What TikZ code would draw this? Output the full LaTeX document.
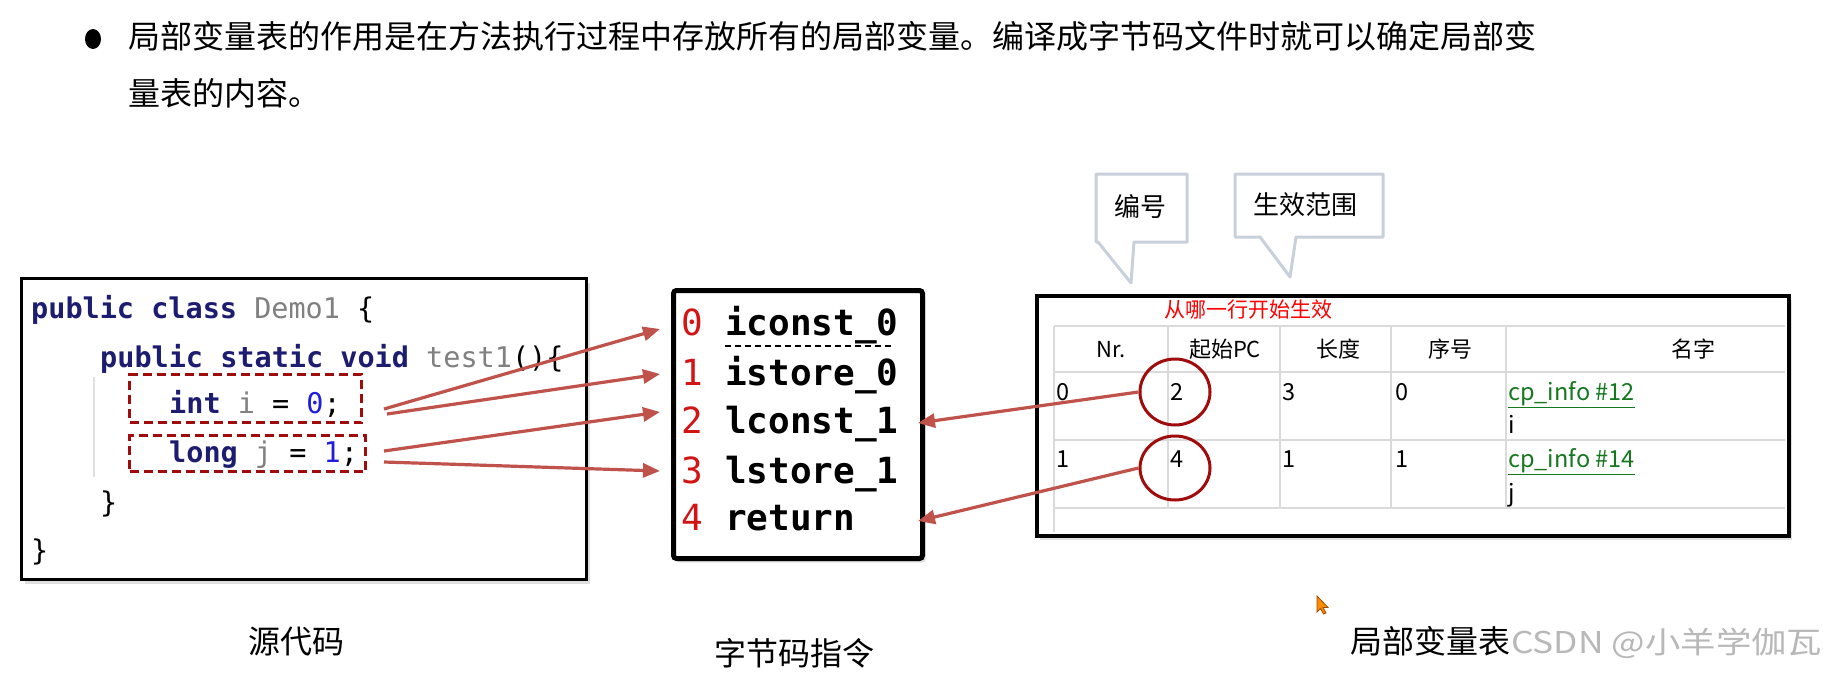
\documentclass[tikz,border=0pt]{standalone}
\usepackage{fontspec}
\newfontfamily\cjk{Noto Sans CJK SC}
\newfontfamily\mono{DejaVu Sans Mono}
\usetikzlibrary{arrows.meta,shadows,shapes.geometric}
\definecolor{kw}{RGB}{28,28,112}
\definecolor{idgray}{RGB}{128,128,128}
\definecolor{numblue}{RGB}{30,30,220}
\definecolor{arrowc}{RGB}{192,82,76}
\definecolor{darkred}{RGB}{160,12,12}
\definecolor{bcred}{RGB}{210,20,20}
\definecolor{callout}{RGB}{200,208,220}
\definecolor{grid}{RGB}{218,218,218}
\definecolor{linkgreen}{RGB}{20,120,30}
\newcommand{\jkw}[1]{\textcolor{kw}{\bfseries #1}}
\newcommand{\jid}[1]{\textcolor{idgray}{#1}}
\newcommand{\jnum}[1]{\textcolor{numblue}{#1}}
\begin{document}
\begin{tikzpicture}[x=1pt,y=-1pt,
  codeline/.style={anchor=west, inner sep=0, yshift=-8pt, font=\mono\fontsize{28.5}{34}\selectfont, text height=0.76em, text depth=0.22em},
  bcnum/.style={inner sep=0, yshift=-9pt, text=bcred, font=\mono\fontsize{36}{42}\selectfont, text height=0.74em, text depth=0.2em},
  bcins/.style={anchor=west, inner sep=0, yshift=-9pt, font=\mono\bfseries\fontsize{36}{42}\selectfont, text height=0.74em, text depth=0.2em},
  dbox/.style={draw=darkred, line width=3.2pt, dash pattern=on 9pt off 5pt, inner sep=0, anchor=north west},
  arr/.style={draw=arrowc, line width=3.2pt, -{Triangle[length=17pt,width=14pt]}},
  tbl/.style={inner sep=0, yshift=-4pt, font=\cjk\fontsize{22}{26}\selectfont, text height=0.88em, text depth=0.12em},
  tval/.style={tbl, anchor=west, font=\cjk\fontsize{23.5}{28}\selectfont},
  captxt/.style={inner sep=0, yshift=-7pt, font=\cjk\fontsize{32}{38}\selectfont, text height=0.88em, text depth=0.12em},
  callbox/.style={draw=callout, line width=3pt, fill=white, line join=round},
  circ/.style={ellipse, draw=darkred, line width=3pt, inner sep=0}
]
\useasboundingbox (0,0) rectangle (1823,682);
\fill[white] (0,0) rectangle (1823,682);

% heading text
\fill[black] (93,39) ellipse [x radius=8pt, y radius=10pt];
\node[captxt, anchor=west] (head1) at (128,38) {局部变量表的作用是在方法执行过程中存放所有的局部变量。编译成字节码文件时就可以确定局部变};
\node[captxt, anchor=west] (head2) at (128,95) {量表的内容。};

% source code box
\node[draw, line width=3pt, fill=white, anchor=north west, minimum width=565pt, minimum height=301pt, inner sep=0,
  drop shadow={shadow xshift=3pt, shadow yshift=-4pt, opacity=0.25}] (codebox) at (20,277) {};
\draw[black!12, line width=2pt] (94,377) -- (94,477);
\node[codeline] (l1) at (31,308) {\jkw{public class} \jid{Demo1} \{};
\node[codeline] (l2) at (100,357) {\jkw{public static void} \jid{test1}()\{};
\node[codeline] (l3) at (169,403) {\jkw{int} \jid{i} = \jnum{0};};
\node[codeline] (l4) at (169,452) {\jkw{long} \jid{j} = \jnum{1};};
\node[codeline] (l5) at (100,502) {\}};
\node[codeline] (l6) at (31,550) {\}};
\node[dbox, minimum width=232pt, minimum height=48pt] (d1) at (128,373) {};
\node[dbox, minimum width=236pt, minimum height=36pt] (d2) at (128,434) {};

% bytecode box
\node[draw, line width=5pt, rounded corners=3pt, fill=white, anchor=north west, minimum width=249pt, minimum height=268pt, inner sep=0,
  drop shadow={shadow xshift=3pt, shadow yshift=-4pt, opacity=0.25}] (bcbox) at (671,288) {};
\node[bcnum] (n0) at (692,324) {0};
\node[bcnum] (n1) at (692,374) {1};
\node[bcnum] (n2) at (692,422) {2};
\node[bcnum] (n3) at (692,472) {3};
\node[bcnum] (n4) at (692,519) {4};
\node[bcins] (i0) at (725,324) {iconst\_0};
\node[bcins] (i1) at (725,374) {istore\_0};
\node[bcins] (i2) at (725,422) {lconst\_1};
\node[bcins] (i3) at (725,472) {lstore\_1};
\node[bcins] (i4) at (725,519) {return};
\draw[black, line width=2pt, dash pattern=on 6pt off 4pt] (725,346) -- (893,346);

% local variable table
\node[draw, line width=4pt, fill=white, anchor=north west, minimum width=752pt, minimum height=240pt, inner sep=0,
  drop shadow={shadow xshift=3pt, shadow yshift=-4pt, opacity=0.25}] (tbox) at (1035,294) {};
\node[tbl, text=red, font=\cjk\fontsize{21}{25}\selectfont] (note) at (1248,310) {从哪一行开始生效};
\draw[grid, line width=2pt] (1054,326) -- (1785,326);
\draw[grid, line width=2pt] (1054,372) -- (1785,372);
\draw[grid, line width=2pt] (1054,440) -- (1785,440);
\draw[grid, line width=2pt] (1054,508) -- (1785,508);
\draw[grid, line width=2pt] (1054,326) -- (1054,532);
\foreach \cx in {1168,1280,1391,1506} \draw[grid, line width=2pt] (\cx,326) -- (\cx,508);
\node[tbl] (h1) at (1111,350) {Nr.};
\node[tbl] (h2) at (1225,350) {起始PC};
\node[tbl] (h3) at (1338,350) {长度};
\node[tbl] (h4) at (1450,350) {序号};
\node[tbl] (h5) at (1693,350) {名字};
\node[tval] (r1a) at (1056,393) {0};
\node[tval] (r1b) at (1170,393) {2};
\node[tval] (r1c) at (1282,393) {3};
\node[tval] (r1d) at (1395,393) {0};
\node[tval, text=linkgreen] (r1e) at (1508,393) {\underline{cp\_info \#12}};
\node[tval] (r1f) at (1508,426) {i};
\node[tval] (r2a) at (1056,460) {1};
\node[tval] (r2b) at (1170,460) {4};
\node[tval] (r2c) at (1282,460) {1};
\node[tval] (r2d) at (1395,460) {1};
\node[tval, text=linkgreen] (r2e) at (1508,460) {\underline{cp\_info \#14}};
\node[tval] (r2f) at (1508,494) {j};
\node[circ, minimum width=70pt, minimum height=66pt] (c1) at (1175,392) {};
\node[circ, minimum width=70pt, minimum height=64pt] (c2) at (1175,468) {};

% callouts
\draw[callbox] (1096,174) -- (1187,174) -- (1187,242) -- (1134,242) -- (1131,283) -- (1098,242) -- (1096,242) -- cycle;
\node[tbl, yshift=-2pt, font=\cjk\fontsize{26}{30}\selectfont] (cb1) at (1140,207) {编号};
\draw[callbox] (1235,174) -- (1383,174) -- (1383,237) -- (1296,237) -- (1290,277) -- (1260,237) -- (1235,237) -- cycle;
\node[tbl, yshift=-2pt, font=\cjk\fontsize{26}{30}\selectfont] (cb2) at (1305,205) {生效范围};

% arrow endpoints
\coordinate (s1) at (384,409); \coordinate (t1) at (660,329);
\coordinate (s2) at (387,414); \coordinate (t2) at (660,374);
\coordinate (s3) at (384,451); \coordinate (t3) at (660,412);
\coordinate (s4) at (384,462); \coordinate (t4) at (660,471);
\coordinate (t5) at (918,423);
\coordinate (t6) at (918,521);
\draw[arr] (s1) -- (t1);
\draw[arr] (s2) -- (t2);
\draw[arr] (s3) -- (t3);
\draw[arr] (s4) -- (t4);
\draw[arr] (c1.west) -- (t5);
\draw[arr] (c2.west) -- (t6);

% captions
\node[captxt] (cap1) at (296,643) {源代码};
\node[captxt] (cap2) at (794,655) {字节码指令};
\node[captxt, anchor=west] (cap3) at (1350,643) {局部变量表};
\node[captxt, anchor=west, text=black!28, font=\cjk\fontsize{30}{34}\selectfont] (wm) at (1511,643) {\scalebox{1.18}[1]{CSDN @小羊学伽瓦}};

% cursor
\filldraw[fill=orange!90!yellow, draw=orange!60!black, line width=0.8pt]
  (1317,596) -- (1317,612) -- (1320.5,608.5) -- (1323.5,614) -- (1326,613) -- (1323,607.5) -- (1328,607.5) -- cycle;
\end{tikzpicture}
\end{document}
